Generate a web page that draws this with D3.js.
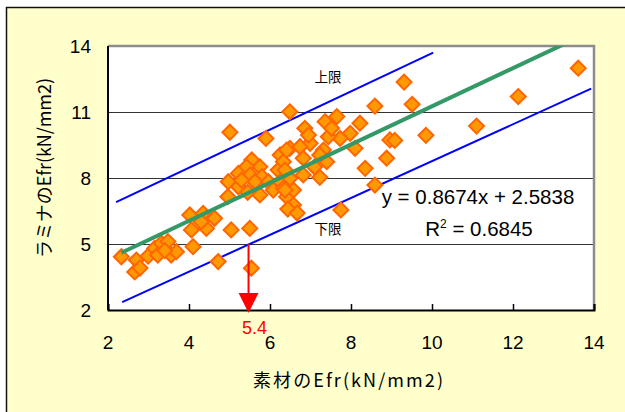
<!DOCTYPE html>
<html>
<head>
<meta charset="utf-8">
<script src="https://cdn.jsdelivr.net/npm/d3@7"></script>
<style>
    body { margin: 0; background: #fff; }
    #chart-area { width: 625px; height: 412px; }
</style>
</head>
<body>
<div id="chart-area"></div>
<script>
// 素材のEfr (x) vs ラミナのEfr (y)
const sozaiEfr = [
    2.33, 2.70, 2.66, 2.79, 2.99, 3.15, 3.32, 3.48, 3.23, 3.56, 3.69, 3.40, 4.10, 4.02, 4.35, 4.63, 4.06, 4.43, 4.30, 5.04, 5.50, 4.72, 5.54, 4.96,
    5.01, 5.90, 6.49, 6.49, 6.25, 5.55, 5.75, 5.42, 5.22, 5.51, 5.80, 4.97, 5.22, 5.63, 5.96, 6.20, 6.25, 5.75, 6.08, 6.33, 6.41, 6.58, 6.58, 6.49, 6.33, 5.30, 5.45,
    8.59, 8.22, 7.65, 7.36, 6.86, 7.98, 7.73, 7.44, 7.52, 6.99, 6.41, 6.74, 7.32, 6.82, 8.10, 7.40, 7.23, 8.35, 8.88, 6.82, 7.23, 6.37, 6.37, 8.59, 8.96, 6.44, 6.67, 7.75, 7.10, 6.95,
    13.61, 12.13, 11.10, 9.85, 9.08, 9.31, 9.51
];
const laminaEfr = [
    4.42, 4.27, 3.73, 3.91, 4.45, 4.80, 5.03, 5.11, 4.50, 4.50, 4.65, 4.70, 4.88, 6.32, 6.39, 6.17, 5.64, 5.71, 6.01, 5.64, 5.71, 4.20, 3.90, 7.15,
    10.08, 9.80, 11.01, 9.35, 9.05, 8.82, 8.51, 8.51, 8.21, 8.14, 8.06, 7.83, 7.60, 7.83, 7.83, 8.36, 7.83, 7.23, 7.45, 7.53, 7.15, 6.77, 7.45, 7.99, 8.74, 7.90, 7.35,
    11.27, 10.49, 10.79, 10.56, 10.26, 10.03, 9.80, 9.88, 10.26, 9.58, 9.27, 9.42, 9.27, 8.90, 9.35, 8.74, 9.05, 8.44, 8.90, 8.14, 8.03, 8.36, 7.45, 7.68, 9.73, 6.59, 6.41, 6.55, 8.50, 9.95,
    12.99, 11.70, 10.36, 9.94, 9.71, 12.36, 11.35
];

const xTicks = [2, 4, 6, 8, 10, 12, 14];
const yTicks = [2, 5, 8, 11, 14];

const trendSlope = 0.8674;
const trendIntercept = 2.5838;
const rSquared = 0.6845;

// 上限 / 下限 lines, as drawn by hand in the original
const upperLimit = [[2.2, 6.9], [10.03, 13.7]];
const lowerLimit = [[2.35, 2.36], [13.93, 12.06]];

const cutoffX = 5.47;
const cutoffLabel = "5.4";

class EfrScatter {
    constructor(_parentElement, _x, _y) {
        this.parentElement = _parentElement;
        this.xData = _x;
        this.yData = _y;
        this.initVis();
    }

    initVis() {
        let vis = this;

        vis.margin = { top: 46, right: 31, bottom: 102, left: 108 };
        vis.width = 625 - vis.margin.left - vis.margin.right;
        vis.height = 412 - vis.margin.top - vis.margin.bottom;

        vis.svg = d3.select("#" + vis.parentElement)
            .append("svg")
            .attr("width", 625)
            .attr("height", 412);

        // chart area background + border (only left/top visible in the crop)
        vis.svg.append("rect")
            .attr("x", 6.5).attr("y", 7.5)
            .attr("width", 640).attr("height", 420)
            .attr("fill", "#FFFFCC")
            .attr("stroke", "#111")
            .attr("stroke-width", 1.5);

        vis.g = vis.svg.append("g")
            .attr("transform", `translate(${vis.margin.left},${vis.margin.top})`);

        vis.x = d3.scaleLinear().domain([2, 14]).range([0, vis.width]);
        vis.y = d3.scaleLinear().domain([2, 14]).range([vis.height, 0]);

        vis.svg.append("defs").append("clipPath")
            .attr("id", "plot-clip")
            .append("rect")
            .attr("width", vis.width).attr("height", vis.height);

        vis.wrangleData();
    }

    wrangleData() {
        let vis = this;
        vis.displayData = vis.xData.map((d, i) => ({ x: d, y: vis.yData[i] }));
        vis.trendData = [d3.min(vis.xData), 14].map(x => [x, trendSlope * x + trendIntercept]);
        vis.updateVis();
    }

    updateVis() {
        let vis = this;

        vis.g.append("rect")
            .attr("width", vis.width).attr("height", vis.height)
            .attr("fill", "#fff");

        // gridlines
        vis.g.append("g")
            .attr("class", "grid")
            .call(d3.axisLeft(vis.y).tickValues(yTicks).tickSize(-vis.width).tickFormat(""))
            .call(g => g.select(".domain").remove())
            .call(g => g.selectAll("line").attr("stroke", "#333").attr("stroke-width", 1));

        // plot border (gray, top/right)
        vis.g.append("path")
            .attr("d", `M0,0H${vis.width}V${vis.height}`)
            .attr("fill", "none")
            .attr("stroke", "#8c8c8c")
            .attr("stroke-width", 2.5);

        let plot = vis.g.append("g").attr("clip-path", "url(#plot-clip)");

        let line = d3.line().x(d => vis.x(d[0])).y(d => vis.y(d[1]));

        plot.append("path")
            .datum(upperLimit)
            .attr("d", line)
            .attr("fill", "none")
            .attr("stroke", "#0000FF")
            .attr("stroke-width", 2);

        plot.append("path")
            .datum(lowerLimit)
            .attr("d", line)
            .attr("fill", "none")
            .attr("stroke", "#0000FF")
            .attr("stroke-width", 2);

        plot.append("g")
            .selectAll("path")
            .data(vis.displayData)
            .join("path")
            .attr("transform", d => `translate(${vis.x(d.x)},${vis.y(d.y)}) rotate(45)`)
            .attr("d", d3.symbol(d3.symbolSquare, 112))
            .attr("fill", "#FF9900")
            .attr("stroke", "#FF6600")
            .attr("stroke-width", 2);

        plot.append("path")
            .datum(vis.trendData)
            .attr("d", line)
            .attr("fill", "none")
            .attr("stroke", "#339966")
            .attr("stroke-width", 4);

        // x axis: inside ticks
        let xAxis = vis.g.append("g")
            .attr("transform", `translate(0,${vis.height})`)
            .call(d3.axisBottom(vis.x).tickValues(xTicks).tickSize(-6).tickPadding(0).tickFormat(""));
        xAxis.selectAll("line").attr("stroke", "#000").attr("stroke-width", 1.5);
        xAxis.select(".domain").attr("stroke", "#000").attr("stroke-width", 2);

        vis.g.append("line")
            .attr("x1", 0).attr("x2", 0).attr("y1", 0).attr("y2", vis.height)
            .attr("stroke", "#000").attr("stroke-width", 2);

        // tick labels
        vis.g.append("g").selectAll("text")
            .data(xTicks)
            .join("text")
            .attr("x", d => vis.x(d))
            .attr("y", vis.height + 39)
            .attr("text-anchor", "middle")
            .attr("font-family", "Liberation Sans, Arial, sans-serif")
            .attr("font-size", 19)
            .text(d => d);

        vis.g.append("g").selectAll("text")
            .data(yTicks)
            .join("text")
            .attr("x", -17)
            .attr("y", d => vis.y(d) + 7)
            .attr("text-anchor", "end")
            .attr("font-family", "Liberation Sans, Arial, sans-serif")
            .attr("font-size", 19)
            .text(d => d);

        // cutoff arrow
        let ax = vis.x(cutoffX);
        vis.g.append("line")
            .attr("x1", ax).attr("x2", ax)
            .attr("y1", vis.y(5)).attr("y2", vis.y(2) - 10)
            .attr("stroke", "#FF0000").attr("stroke-width", 2);
        vis.g.append("path")
            .attr("d", `M${ax - 10},${vis.y(2) - 17}L${ax + 10},${vis.y(2) - 17}L${ax},${vis.y(2) + 3}Z`)
            .attr("fill", "#FF0000");
        vis.g.append("text")
            .attr("x", ax + 6).attr("y", vis.height + 24)
            .attr("text-anchor", "middle")
            .attr("fill", "#FF0000")
            .attr("font-family", "Liberation Sans, Arial, sans-serif")
            .attr("font-size", 18)
            .text(cutoffLabel);

        // limit labels
        let cjk = "'Noto Sans CJK JP', sans-serif";
        vis.g.append("text")
            .attr("x", 220).attr("y", 36)
            .attr("text-anchor", "middle")
            .attr("font-family", cjk).attr("font-size", 13.5)
            .text("上限");
        vis.g.append("text")
            .attr("x", 220).attr("y", 188)
            .attr("text-anchor", "middle")
            .attr("font-family", cjk).attr("font-size", 13.5)
            .text("下限");

        // regression text
        vis.g.append("text")
            .attr("x", 370).attr("y", 158)
            .attr("text-anchor", "middle")
            .attr("font-family", "Liberation Sans, Arial, sans-serif")
            .attr("font-size", 20.5)
            .text(`y = ${trendSlope}x + ${trendIntercept}`);
        let r2 = vis.g.append("text")
            .attr("x", 371).attr("y", 190)
            .attr("text-anchor", "middle")
            .attr("font-family", "Liberation Sans, Arial, sans-serif")
            .attr("font-size", 20.5);
        r2.append("tspan").text("R");
        r2.append("tspan").attr("dy", -8).attr("font-size", 12).text("2");
        r2.append("tspan").attr("dy", 8).text(` = ${rSquared}`);

        // axis titles
        vis.svg.append("text")
            .attr("x", 348).attr("y", 387)
            .attr("text-anchor", "middle")
            .attr("font-family", cjk).attr("font-size", 18)
            .attr("textLength", 190).attr("lengthAdjust", "spacing")
            .text("素材のEfr(kN/mm2)");
        vis.svg.append("text")
            .attr("transform", "translate(51,168) rotate(-90)")
            .attr("text-anchor", "middle")
            .attr("font-family", cjk).attr("font-size", 18)
            .attr("textLength", 180).attr("lengthAdjust", "spacing")
            .text("ラミナのEfr(kN/mm2)");
    }
}

new EfrScatter("chart-area", sozaiEfr, laminaEfr);
</script>
</body>
</html>
